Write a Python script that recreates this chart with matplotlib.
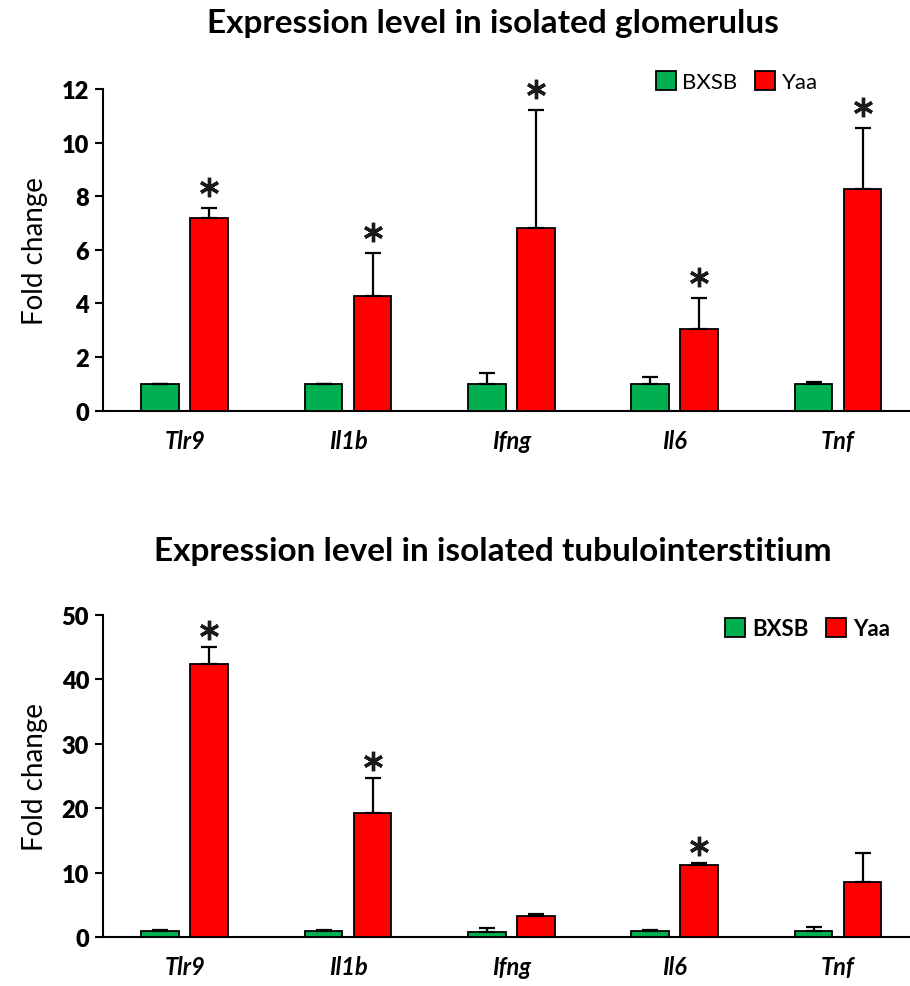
import numpy as np
import matplotlib
matplotlib.use("Agg")
import matplotlib.pyplot as plt
from matplotlib.transforms import offset_copy

plt.rcParams['font.family'] = ['Lato', 'DejaVu Sans']

genes = ['Tlr9', 'Il1b', 'Ifng', 'Il6', 'Tnf']

# glomerulus
glom_bxsb = [1.0, 1.0, 1.0, 1.0, 1.0]
glom_bxsb_err = [0.0, 0.0, 0.4, 0.25, 0.06]
glom_yaa = [7.18, 4.29, 6.82, 3.05, 8.27]
glom_yaa_err = [0.37, 1.6, 4.4, 1.15, 2.28]
glom_sig = [True, True, True, True, True]

# tubulointerstitium
tub_bxsb = [1.0, 1.0, 0.9, 1.0, 1.0]
tub_bxsb_err = [0.2, 0.2, 0.6, 0.15, 0.65]
tub_yaa = [42.4, 19.2, 3.35, 11.2, 8.5]
tub_yaa_err = [2.6, 5.5, 0.25, 0.3, 4.5]
tub_sig = [True, True, False, True, False]

GREEN = '#00b050'
RED = '#ff0000'

fig = plt.figure(figsize=(9.1, 9.87), dpi=100)
ax1 = fig.add_axes([0.1132, 0.5829, 0.8868, 0.3259])
ax2 = fig.add_axes([0.1132, 0.0493, 0.8868, 0.3270])

x = np.arange(len(genes))
w = 0.23
off = 0.15


def draw(ax, bx, bx_err, ya, ya_err, sig, ymax, step, legend_pos, legend_bold, star_up):
    ekw = dict(ecolor='black', elinewidth=1.6, capsize=6, capthick=1.6)
    ax.bar(x - off, bx, w, color=GREEN, edgecolor='black', linewidth=1.3,
           yerr=[np.zeros(len(bx)), bx_err], error_kw=ekw, label='BXSB', zorder=3)
    ax.bar(x + off, ya, w, color=RED, edgecolor='black', linewidth=1.3,
           yerr=[np.zeros(len(ya)), ya_err], error_kw=ekw, label='Yaa', zorder=3)
    # significance asterisks above the error caps
    sig = np.array(sig)
    tops = np.array(ya) + np.array(ya_err)
    star_tr = offset_copy(ax.transData, fig=ax.figure, y=star_up, units='points')
    ax.plot(x[sig] + off, tops[sig], linestyle='none', marker=(6, 2, 0), markersize=14,
            markeredgewidth=2.4, color='#1a1a1a', transform=star_tr, clip_on=False)
    ax.set_xlim(-0.5, 4.44)
    ax.set_ylim(0, ymax)
    ax.set_yticks(np.arange(0, ymax + 0.1, step))
    ax.set_xticks(x)
    ax.set_xticklabels(genes, fontstyle='italic', fontweight='bold', fontsize=17)
    ax.tick_params(axis='x', length=0, pad=13)
    ax.tick_params(axis='y', length=6, width=1.5, direction='out', pad=4)
    for lab in ax.get_yticklabels():
        lab.set_fontweight('heavy')
        lab.set_fontsize(17)
    ax.spines['top'].set_visible(False)
    ax.spines['right'].set_visible(False)
    ax.spines['left'].set_linewidth(1.5)
    ax.spines['bottom'].set_linewidth(1.5)
    ax.set_ylabel('Fold change', fontsize=20, labelpad=10)
    ax.legend(loc='center left', bbox_to_anchor=legend_pos, ncol=2, frameon=False,
              handlelength=0.9, handleheight=0.9, handletextpad=0.3, columnspacing=0.8,
              borderaxespad=0, borderpad=0,
              prop={'size': 16, 'weight': 'bold' if legend_bold else 'normal'})


draw(ax1, glom_bxsb, glom_bxsb_err, glom_yaa, glom_yaa_err, glom_sig, 12, 2,
     (0.685, 1.023), False, 15)
draw(ax2, tub_bxsb, tub_bxsb_err, tub_yaa, tub_yaa_err, tub_sig, 50, 10,
     (0.771, 0.957), True, 12.5)

fig.text(0.542, 1 - 24 / 987, 'Expression level in isolated glomerulus',
         ha='center', va='center', fontsize=24, fontweight='bold')
fig.text(0.542, 1 - 552 / 987, 'Expression level in isolated tubulointerstitium',
         ha='center', va='center', fontsize=24, fontweight='bold')

fig.savefig('out.png', dpi=100)
